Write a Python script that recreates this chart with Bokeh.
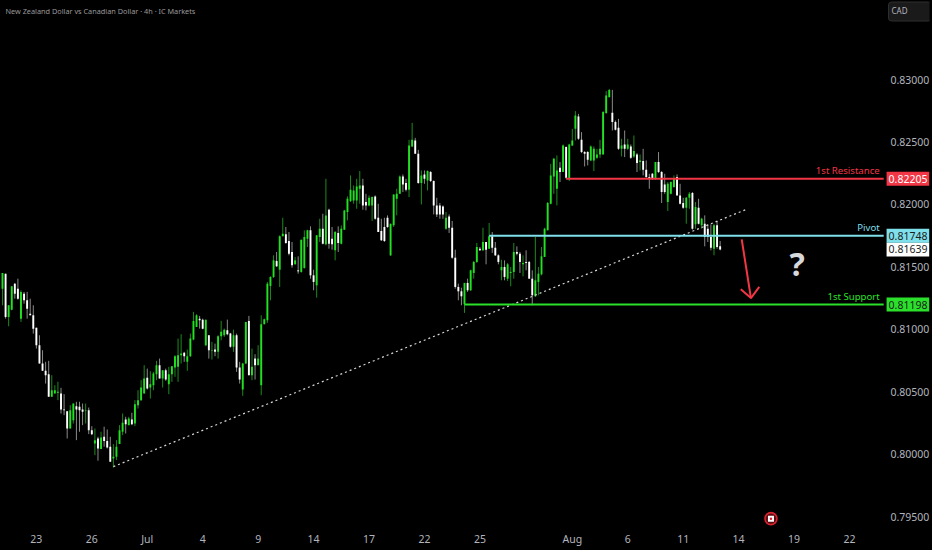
from bokeh.plotting import figure
from bokeh.models import ColumnDataSource, FixedTicker, NumeralTickFormatter, Label, Range1d, LinearAxis
from bokeh.core.properties import value
from bokeh.embed import file_html
from bokeh.resources import INLINE

opens = [81325,81445,81099,81157,81365,81325,81085,81285,81232,81125,
81112,81013,80872,80725,80667,80640,80459,80485,80491,80485,
80357,80344,80205,80272,80384,80379,80357,80347,80352,80192,
80085,80125,80040,80139,80104,80059,79965,79979,80080,80179,
80277,80232,80277,80245,80392,80432,80485,80611,80533,80552,
80640,80712,80605,80672,80560,80640,80693,80699,80792,80811,
80739,80784,80917,81019,81085,81077,80872,80952,80827,80837,
80819,80944,80952,80992,80965,80859,80952,80693,80517,80725,
81067,80632,80765,80712,80552,81040,81072,81347,81419,81547,
81477,81744,81760,81707,81619,81520,81472,81459,81491,81725,
81792,81432,81352,81739,81805,81680,81957,81725,81632,81771,
81685,81797,81939,82027,82032,82032,82125,82152,82019,81992,
81992,82064,81893,81787,81819,81893,81592,81832,82045,82085,
82224,82171,82117,82464,82512,82405,82171,82240,82192,82259,
82187,81992,81992,81984,81805,81904,81813,81573,81339,81304,
81200,81371,81312,81451,81539,81645,81632,81699,81645,81744,
81653,81592,81472,81499,81405,81451,81459,81619,81605,81520,
81539,81539,81405,81264,81379,81440,81579,81792,82005,82224,
82125,82293,82259,82459,82205,82472,82605,82704,82517,82419,
82419,82352,82352,82373,82400,82400,82731,82859,82733,82659,
82613,82445,82480,82445,82464,82384,82400,82339,82347,82277,
82219,82245,82205,82339,82259,82160,82019,82085,82139,82219,
82072,82011,81973,82053,82091,81840,81973,81832,81845,81805,
81739,81645,81832,81664]

highs = [81451,81445,81192,81344,81371,81405,81312,81299,81299,81245,
81192,81013,80952,80832,80739,80747,80632,80552,80579,80531,
80480,80344,80392,80405,80419,80419,80405,80405,80373,80224,
80205,80139,80179,80219,80197,80139,80080,80112,80232,80325,
80299,80299,80331,80432,80512,80592,80712,80685,80664,80659,
80747,80765,80672,80685,80699,80704,80792,80925,80960,80819,
80837,80965,81139,81120,81107,81085,81077,80952,80899,80885,
80952,81067,81005,81077,80971,80997,80965,80739,80731,81059,
81107,80845,80800,80872,81112,81085,81379,81424,81592,81619,
81752,81893,81819,81779,81699,81579,81584,81717,81792,81797,
81824,81477,81752,81885,81925,82205,81965,81819,81787,81824,
81832,81957,82064,82232,82152,82205,82267,82205,82085,82072,
82064,82072,82005,81885,81893,81912,81845,82080,82125,82232,
82240,82205,82517,82653,82533,82437,82272,82272,82272,82267,
82192,82053,82011,81992,81939,81920,81867,81637,81365,81333,
81371,81405,81477,81547,81691,81659,81813,81699,81851,81779,
81699,81600,81557,81552,81531,81499,81691,81664,81619,81592,
81632,81547,81472,81739,81499,81659,81813,82019,82325,82373,
82392,82339,82480,82464,82485,82605,82747,82725,82579,82427,
82427,82472,82464,82445,82517,82747,82907,82925,82917,82672,
82685,82525,82592,82525,82480,82552,82411,82400,82445,82352,
82245,82251,82339,82419,82267,82245,82179,82184,82232,82240,
82165,82053,82059,82099,82099,82019,82045,81893,81912,81840,
81840,81845,81867,81707]

lows = [81192,81085,81024,81152,81245,81237,81059,81205,81085,81112,
80965,80845,80725,80667,80565,80459,80459,80485,80432,80325,
80312,80125,80205,80245,80112,80179,80232,80245,80160,80152,
79992,79947,80040,80059,80045,79939,79893,79952,80080,80152,
80165,80232,80232,80224,80365,80427,80485,80517,80445,80512,
80592,80605,80533,80587,80480,80579,80619,80579,80725,80739,
80667,80779,80912,81019,81005,81000,80864,80765,80757,80784,
80765,80912,80939,80952,80853,80819,80659,80565,80467,80720,
80632,80592,80597,80712,80472,81040,81051,81232,81411,81499,
81339,81744,81685,81592,81493,81520,81445,81453,81485,81659,
81405,81312,81253,81699,81680,81672,81645,81637,81552,81619,
81680,81797,81872,82019,82005,81965,82005,81957,81952,81984,
81867,81877,81779,81707,81699,81813,81587,81819,81912,82085,
82099,82104,82059,82459,82405,82165,82000,82165,82112,82179,
81920,81899,81885,81885,81797,81771,81565,81325,81232,81192,
81131,81299,81307,81405,81531,81627,81627,81520,81645,81611,
81587,81520,81392,81392,81387,81344,81405,81592,81451,81424,
81472,81405,81192,81259,81272,81432,81579,81792,82000,82085,
81992,82179,82259,82205,82187,82467,82512,82517,82411,82304,
82312,82347,82267,82365,82373,82400,82725,82859,82592,82592,
82437,82384,82379,82437,82365,82373,82259,82272,82232,82213,
82125,82197,82197,82251,82011,82085,81947,82080,82133,82072,
82000,81965,81845,81965,81797,81805,81840,81805,81664,81699,
81632,81592,81645,81632]

closes = [81451,81099,81192,81344,81285,81245,81299,81232,81165,81112,
81005,80872,80725,80667,80632,80459,80512,80512,80499,80357,
80352,80205,80352,80405,80357,80352,80339,80352,80192,80160,
80112,80045,80133,80104,80053,79939,79979,80059,80192,80251,
80240,80285,80240,80400,80432,80533,80605,80525,80560,80645,
80712,80605,80672,80597,80640,80704,80784,80792,80805,80784,
80784,80925,81067,81112,81072,81005,81077,80832,80832,80819,
80944,80979,80997,80960,80859,80952,80693,80597,80725,81059,
80632,80699,80712,80765,81040,81080,81365,81419,81552,81504,
81744,81765,81691,81605,81512,81552,81464,81717,81739,81792,
81432,81379,81752,81805,81685,81912,81685,81680,81779,81691,
81805,81952,82045,82117,82112,82144,82152,81992,81992,82053,
82059,81885,81779,81712,81707,81819,81845,82080,82085,82224,
82160,82117,82472,82517,82405,82171,82232,82205,82267,82187,
81992,81920,81920,81920,81893,81813,81573,81339,81304,81264,
81371,81312,81472,81539,81659,81632,81699,81637,81744,81653,
81592,81539,81499,81419,81520,81459,81619,81605,81539,81531,
81531,81405,81272,81392,81445,81584,81805,82011,82232,82365,
82272,82259,82472,82213,82480,82512,82712,82525,82419,82405,
82357,82464,82445,82400,82445,82739,82872,82917,82659,82597,
82445,82472,82445,82480,82373,82427,82331,82352,82277,82219,
82203,82203,82339,82259,82099,82099,82165,82179,82205,82072,
82005,81973,82053,82085,81805,81979,81845,81885,81739,81739,
81653,81832,81659,81639]

price_ticks = [0.795, 0.80, 0.805, 0.81, 0.815, 0.82, 0.825, 0.83]
date_bars = [11, 29, 47, 65, 83, 101, 119, 137, 155, 185, 203, 221, 239, 257, 275]
date_labels = ["23", "26", "Jul", "4", "9", "14", "17", "22", "25", "Aug", "6", "11", "14", "19", "22"]

resistance, pivot, support, last_price = 0.82205, 0.81748, 0.81198, 0.81639
resistance_start, pivot_start, support_start = 183, 158, 150
bars_end = 286.1
trend_bars, trend_prices = [36, 242], [0.79900, 0.81965]
arrow_bars, arrow_prices = [240, 243], [0.81720, 0.81250]
head_bars, head_prices = [239.7, 243, 245.7], [0.81320, 0.81250, 0.81340]
question_bar, question_price = 258, 0.81530
flag_bar, flag_price = 249.5, 0.79483

GREEN, WHITE, GREEN_WICK, GREY_WICK = "#22e022", "#ffffff", "#1d8a1d", "#8a8a8a"
RED, CYAN, BRIGHT_GREEN = "#f23645", "#7fdfea", "#2be02b"
LABEL = "#b2b5be"
FONT = "Noto Sans"

n = len(opens)
xs = list(range(n))
scale = 1e-5
src = ColumnDataSource(dict(
    x=xs,
    top=[max(o, c) * scale for o, c in zip(opens, closes)],
    bottom=[min(o, c) * scale for o, c in zip(opens, closes)],
    high=[v * scale for v in highs],
    low=[v * scale for v in lows],
    body=[GREEN if c >= o else WHITE for o, c in zip(opens, closes)],
    wick=[GREEN_WICK if c >= o else GREY_WICK for o, c in zip(opens, closes)],
))

p = figure(width=932, height=550, output_backend="svg", toolbar_location=None,
           x_range=Range1d(-0.647, 300.97), y_range=Range1d(0.79228, 0.83633),
           background_fill_color="#000000", border_fill_color="#000000",
           min_border_left=0, min_border_top=0, min_border_right=0, min_border_bottom=0,
           outline_line_color=None, x_axis_location="below", y_axis_location=None)
p.grid.visible = False

p.xaxis.ticker = FixedTicker(ticks=date_bars)
p.xaxis.major_label_overrides = dict(zip(date_bars, date_labels))
p.xaxis.axis_line_color = None
p.xaxis.major_tick_line_color = None
p.xaxis.minor_tick_line_color = None
p.xaxis.major_tick_in = 0
p.xaxis.major_tick_out = 0
p.xaxis.minor_tick_out = 0
p.xaxis.major_label_text_color = LABEL
p.xaxis.major_label_text_font = FONT
p.xaxis.major_label_text_font_size = "10.5px"
p.xaxis.major_label_standoff = -19

yax = LinearAxis(ticker=FixedTicker(ticks=price_ticks),
                 formatter=NumeralTickFormatter(format="0.00000"),
                 axis_line_color=None, major_tick_line_color=None, minor_tick_line_color=None,
                 major_tick_in=0, major_tick_out=0, minor_tick_out=0,
                 major_label_text_color=LABEL, major_label_text_font=FONT,
                 major_label_text_font_size="10.5px", major_label_standoff=-39)
p.add_layout(yax, "right")

p.segment("x", "high", "x", "low", source=src, line_color="wick", line_width=1)
p.vbar("x", 0.62, "top", "bottom", source=src, fill_color="body", line_color=None)

p.line(trend_bars, trend_prices, line_color="#d8d8d8", line_width=1.2, line_dash="2 3")
p.line([resistance_start, bars_end], [resistance] * 2, line_color=RED, line_width=2)
p.line([pivot_start, bars_end], [pivot] * 2, line_color=CYAN, line_width=2)
p.line([support_start, bars_end], [support] * 2, line_color=BRIGHT_GREEN, line_width=2)
p.line(arrow_bars, arrow_prices, line_color=RED, line_width=2)
p.line(head_bars, head_prices, line_color=RED, line_width=2)


def note(text, price, color, bar_x=284.8):
    p.text([bar_x], [price], text=[text], text_color=color, text_align="right",
           text_baseline="bottom", text_font=value(FONT), text_font_size="9.6px",
           y_offset=-2)


note("1st Resistance", resistance, RED)
note("Pivot", pivot, CYAN)
note("1st Support", support, BRIGHT_GREEN)
p.text([question_bar], [question_price], text=["?"], text_color="#d6d8dc", text_align="center",
       text_baseline="middle", text_font=value(FONT), text_font_size="32px",
       text_font_style="bold")

p.scatter([flag_bar], [flag_price], marker="circle", size=12, fill_color="#5a0c12",
          line_color="#d8232f", line_width=1.6)
p.scatter([flag_bar], [flag_price], marker="square", size=6, fill_color="#ffffff", line_color=None)
p.scatter([flag_bar], [flag_price], marker="circle", size=2.5, fill_color="#e0202c", line_color=None)


def badge(text, price, fill, color):
    p.add_layout(Label(x=907.5, y=price, x_units="screen", y_units="data", text=text,
                       text_align="center", text_baseline="middle", text_color=color,
                       text_font=FONT, text_font_size="10.5px", background_fill_color=fill,
                       padding=(2, 3)))


badge("0.82205", resistance, RED, "#ffffff")
badge("0.81639", last_price, "#ffffff", "#1c1c1c")
badge("0.81748", pivot, CYAN, "#1c1c1c")
badge("0.81198", support, BRIGHT_GREEN, "#1c1c1c")

p.add_layout(Label(x=5, y=540, x_units="screen", y_units="screen",
                   text="New Zealand Dollar vs Canadian Dollar \u00b7 4h \u00b7 IC Markets",
                   text_color="#9a9a9a", text_font=FONT, text_font_size="7.3px",
                   text_baseline="middle"))
p.add_layout(Label(x=888, y=539, x_units="screen", y_units="screen", text="CAD",
                   text_color="#b2b5be", text_font=FONT, text_font_size="8px",
                   text_baseline="middle", background_fill_color="#1a1a1a",
                   border_line_color="#2e2e2e", border_radius=3, padding=(3, 24, 3, 5)))

html = file_html(p, INLINE)
html = html.replace("<head>", "<head><style>html,body{margin:0;background:#000;overflow:hidden}</style>", 1)
open("out.html", "w").write(html)
